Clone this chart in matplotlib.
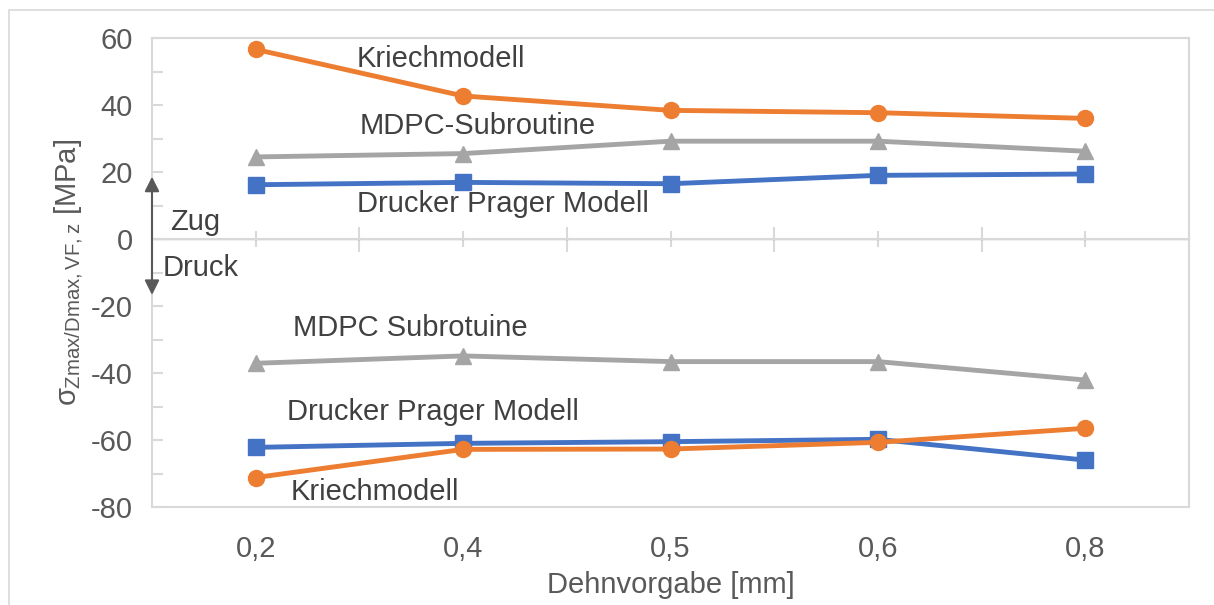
import matplotlib.pyplot as plt
from matplotlib.patches import Rectangle

plt.rcParams['font.family'] = ['Liberation Sans', 'DejaVu Sans']
plt.rcParams['mathtext.fontset'] = 'custom'
plt.rcParams['mathtext.rm'] = 'Liberation Sans'
plt.rcParams['mathtext.it'] = 'Liberation Sans'
plt.rcParams['axes.unicode_minus'] = False

# Dehnvorgabe categories
dehn = ['0,2', '0,4', '0,5', '0,6', '0,8']

# Zug (tension) branch
kriech_zug = [56.6, 42.7, 38.4, 37.7, 36.0]
mdpc_zug = [24.5, 25.5, 29.2, 29.2, 26.2]
dp_zug = [16.2, 16.9, 16.5, 19.0, 19.4]

# Druck (compression) branch
kriech_druck = [-71.2, -62.8, -62.7, -60.7, -56.5]
mdpc_druck = [-37.1, -34.9, -36.6, -36.6, -42.1]
dp_druck = [-62.2, -61.0, -60.5, -59.8, -66.0]

BLUE = '#4472C4'
ORANGE = '#ED7D31'
GREY = '#A5A5A5'
TXT = '#404040'
TICK = '#595959'
FRAME = '#D9D9D9'

fig = plt.figure(figsize=(12.14, 6.05), dpi=100)
fig.patches.append(Rectangle((9 / 1214, -0.1), 1.2, 1.1 - 10 / 605, transform=fig.transFigure,
                             fill=False, edgecolor=FRAME, linewidth=1.2))
ax = fig.add_axes([152 / 1214, 1 - 507 / 605, (1189 - 152) / 1214, (507 - 38) / 605])

x = list(range(len(dehn)))
style = dict(linewidth=3.5, solid_joinstyle='round', clip_on=False)
for zug, druck, color, marker, ms in [(dp_zug, dp_druck, BLUE, 's', 11),
                                      (mdpc_zug, mdpc_druck, GREY, '^', 11),
                                      (kriech_zug, kriech_druck, ORANGE, 'o', 11.5)]:
    ax.plot(x, zug, color=color, marker=marker, markersize=ms, **style)
    ax.plot(x, druck, color=color, marker=marker, markersize=ms, **style)

ax.set_xlim(-0.5, len(dehn) - 0.5)
ax.set_ylim(-80, 60)

for s in ax.spines.values():
    s.set_color(FRAME)
    s.set_linewidth(1.5)

ax.set_yticks(range(-80, 61, 20))
ax.set_yticks(range(-70, 60, 20), minor=True)
ax.tick_params(axis='y', which='both', direction='in', length=8, color=FRAME, width=1.5,
               labelsize=21, labelcolor=TICK, pad=14)
ax.set_xticks(x)
ax.set_xticklabels(dehn)
ax.tick_params(axis='x', which='both', length=0, labelsize=21, labelcolor=TICK, pad=20)

# zero line with category tick marks
ax.axhline(0, color=FRAME, linewidth=1.5, zorder=0.5)
zero = ax.secondary_xaxis(80 / 140)
zero.spines['bottom'].set_visible(False)
zero.set_xticks(x)
zero.set_xticks([i - 0.5 for i in range(len(dehn) + 1)], minor=True)
zero.tick_params(which='major', direction='inout', length=12, color=FRAME, width=1.5, labelbottom=False)
zero.tick_params(which='minor', direction='inout', length=18, color=FRAME, width=1.5)
zero.set_xticklabels([])

ax.set_xlabel('Dehnvorgabe [mm]', fontsize=21, color=TICK, labelpad=6)
ax.set_ylabel(r'$\sigma_{\mathrm{Zmax/Dmax,VF,z}}$ [MPa]', fontsize=21, color=TICK, labelpad=4)

# series labels
lab = dict(fontsize=21, color=TXT, va='center', ha='left')
ax.text(0.487, 53.6, 'Kriechmodell', **lab)
ax.text(0.50, 33.6, 'MDPC-Subroutine', **lab)
ax.text(0.49, 10.3, 'Drucker Prager Modell', **lab)
ax.text(0.18, -26.5, 'MDPC Subrotuine', **lab)
ax.text(0.15, -51.7, 'Drucker Prager Modell', **lab)
ax.text(0.17, -75.6, 'Kriechmodell', **lab)

# Zug / Druck arrow
ax.annotate('', xy=(-0.5, 18.6), xytext=(-0.5, -16.7),
            arrowprops=dict(arrowstyle='<|-|>', color=TICK, lw=1.5, mutation_scale=22,
                            shrinkA=0, shrinkB=0), annotation_clip=False)
ax.text(-0.415, 5.2, 'Zug', **lab)
ax.text(-0.449, -8.6, 'Druck', **lab)

fig.savefig('out.png', dpi=100)
